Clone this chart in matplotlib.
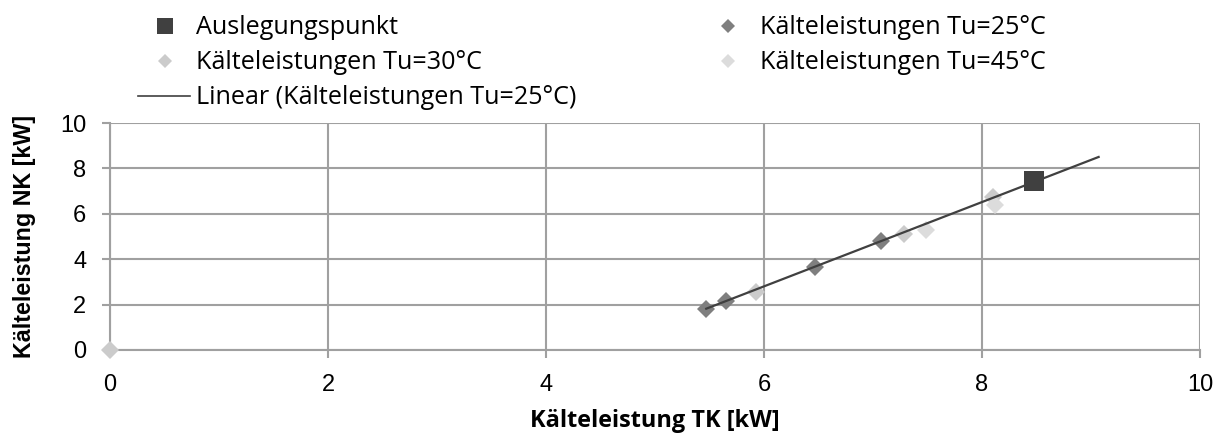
import numpy as np
import matplotlib
matplotlib.use("Agg")
import matplotlib.pyplot as plt
from matplotlib.lines import Line2D

# data
design_x = [8.48]
design_y = [7.44]

t25_x = [5.47, 5.65, 6.47, 7.07]
t25_y = [1.82, 2.16, 3.66, 4.80]

t30_x = [0.0, 5.93, 7.28, 8.10]
t30_y = [0.0, 2.57, 5.13, 6.72]

t45_x = [7.49, 8.12]
t45_y = [5.29, 6.40]

trend_x_end = 9.07

labels = ["Auslegungspunkt", "Kälteleistungen Tu=25°C",
          "Kälteleistungen Tu=30°C", "Kälteleistungen Tu=45°C",
          "Linear (Kälteleistungen Tu=25°C)"]

C_DESIGN = "#404040"
C25 = "#7f7f7f"
C30 = "#cbcbcb"
C45 = "#dcdcdc"
GRID = "#a0a0a0"
HUMANIST = ["Open Sans", "DejaVu Sans"]

W, H = 1219, 434
fig = plt.figure(figsize=(W / 100, H / 100), dpi=100)
ax = fig.add_axes([110 / W, 1 - 350 / H, 1090 / W, 227 / H])
renderer = fig.canvas.get_renderer()


def fit_width(t, target_px):
    # scale a text so that it is as wide as in the reference
    w = t.get_window_extent(renderer).width
    t.set_fontsize(t.get_fontsize() * target_px / w)
    return t.get_fontsize()


# linear trend of the 25 degC series, extended forward like the Excel trendline
k, d = np.polyfit(t25_x, t25_y, 1)
tx = np.array([min(t25_x), trend_x_end])

ax.plot(design_x, design_y, ls="none", marker="s", ms=13.7, mew=0, color=C_DESIGN, zorder=5)
ax.plot(t25_x, t25_y, ls="none", marker="D", ms=9.4, mew=0, color=C25, zorder=4)
ax.plot(t30_x, t30_y, ls="none", marker="D", ms=9.4, mew=0, color=C30, zorder=3, clip_on=False)
ax.plot(t45_x, t45_y, ls="none", marker="D", ms=9.4, mew=0, color=C45, zorder=3)
ax.plot(tx, k * tx + d, color=C_DESIGN, lw=1.6, zorder=6)

ax.set_xlim(0, 10)
ax.set_ylim(0, 10)
ax.set_xticks(range(0, 11, 2))
ax.set_yticks(range(0, 11, 2))
ax.grid(True, color=GRID, lw=1.5)
ax.set_axisbelow(True)
for s in ["top", "right"]:
    ax.spines[s].set_visible(False)
for s in ["left", "bottom"]:
    ax.spines[s].set_color(GRID)
    ax.spines[s].set_linewidth(1.5)
ax.tick_params(colors=GRID, length=6, width=1.5, labelcolor="black",
               labelsize=17, pad=11)
for lab in ax.get_xticklabels() + ax.get_yticklabels():
    lab.set_fontfamily("Liberation Sans")

# axis titles
xt = fig.text(655 / W, 1 - 427 / H, "Kälteleistung TK [kW]", ha="center", va="baseline",
              fontsize=17, fontweight="bold", family=HUMANIST)
fit_width(xt, 250)
yt = fig.text(25 / W, 1 - 236 / H, "Kälteleistung NK [kW]", ha="center", va="center",
              rotation=90, fontsize=17, fontweight="bold", family="Liberation Sans")
w = yt.get_window_extent(renderer).height
yt.set_fontsize(17 * 244 / w)


# legend, laid out like the Excel one (pixel positions of the reference)
def fx(px):
    return px / W


def fy(py):
    return 1 - py / H


probe = fig.text(0, 0, labels[1], fontsize=17, family=HUMANIST)
leg_size = fit_width(probe, 287)
probe.remove()

rows = [26, 61, 96]
entries = [
    (165, rows[0], dict(marker="s", ms=11.5, color=C_DESIGN), labels[0], 196),
    (728, rows[0], dict(marker="D", ms=7.5, color=C25), labels[1], 760),
    (165, rows[1], dict(marker="D", ms=7.5, color=C30), labels[2], 196),
    (728, rows[1], dict(marker="D", ms=7.5, color=C45), labels[3], 760),
]
for mx, my, style, text, tx0 in entries:
    fig.add_artist(Line2D([fx(mx)], [fy(my)], ls="none", mew=0,
                          transform=fig.transFigure, **style))
    fig.text(fx(tx0), fy(my + 8), text, ha="left", va="baseline",
             fontsize=leg_size, family=HUMANIST)
fig.add_artist(Line2D([fx(138), fx(190)], [fy(rows[2]), fy(rows[2])],
                      color=C_DESIGN, lw=1.2, transform=fig.transFigure))
fig.text(fx(196), fy(rows[2] + 8), labels[4], ha="left", va="baseline",
         fontsize=leg_size, family=HUMANIST)

fig.savefig("out.png", dpi=100)
